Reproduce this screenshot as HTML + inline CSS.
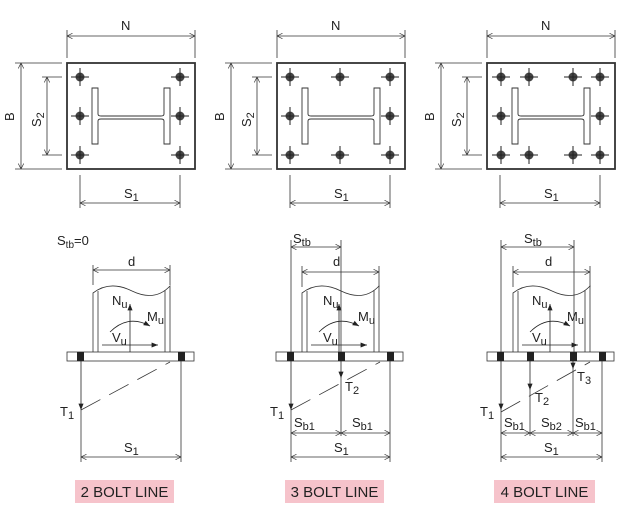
<!DOCTYPE html>
<html><head><style>
html,body{margin:0;padding:0;background:#fff}
svg{display:block}
text{font-family:"Liberation Sans",Arial,sans-serif;fill:#222}
</style></head><body>
<svg width="624" height="505" viewBox="0 0 624 505" xmlns="http://www.w3.org/2000/svg">
<defs>
<marker id="t" viewBox="0 0 10 10" refX="10" refY="5" markerWidth="7" markerHeight="7" orient="auto-start-reverse"><path d="M0,0 L10,5 L0,10" fill="none" stroke="#333" stroke-width="1.2"/></marker>
<marker id="a" viewBox="0 0 10 10" refX="10" refY="5" markerWidth="8" markerHeight="8" orient="auto"><path d="M0,1 L10,5 L0,9 z" fill="#222"/></marker>
<g id="bolt"><circle r="4.5" fill="#444"/><path d="M-9,0H9M0,-9V9" stroke="#222" stroke-width="1"/></g>
<g id="top" stroke="#333" fill="none" stroke-width="0.8">
<rect x="67" y="63" width="128" height="106" stroke-width="1.8"/>
<path d="M67,30V58M195,30V58"/>
<line x1="67" y1="36" x2="195" y2="36" marker-start="url(#t)" marker-end="url(#t)"/>
<path d="M15,63H62M15,169H62"/>
<line x1="21" y1="63" x2="21" y2="169" marker-start="url(#t)" marker-end="url(#t)"/>
<path d="M42,77H62M42,155H62"/>
<line x1="47" y1="77" x2="47" y2="155" marker-start="url(#t)" marker-end="url(#t)"/>
<path d="M80,175V208M180,175V208"/>
<line x1="80" y1="203" x2="180" y2="203" marker-start="url(#t)" marker-end="url(#t)"/>
<path d="M92,88H98V114Q98,116 101,116H161Q164,116 164,114V88H170V144H164V121Q164,119 161,119H101Q98,119 98,121V144H92Z" fill="#fff" stroke-width="0.9"/>
</g>
<g id="low" stroke="#333" fill="none" stroke-width="0.8">
<rect x="67" y="352" width="127" height="9" fill="#fff"/>
<path d="M93,352V293Q110,280 132,291Q155,302 170,286V352M98,352V291M165,352V290"/>
<line x1="130" y1="352" x2="130" y2="304" stroke="#222" marker-end="url(#a)"/>
<line x1="102" y1="345" x2="158" y2="345" stroke="#222" marker-end="url(#a)"/>
<path d="M110,332Q128,314 150,326" stroke="#222" marker-end="url(#a)"/>
</g>
</defs>

<use href="#top"/>
<use href="#top" transform="translate(210,0)"/>
<use href="#top" transform="translate(420,0)"/>
<g>
<use href="#bolt" x="80" y="77"/><use href="#bolt" x="180" y="77"/>
<use href="#bolt" x="80" y="116"/><use href="#bolt" x="180" y="116"/>
<use href="#bolt" x="80" y="155"/><use href="#bolt" x="180" y="155"/>
<use href="#bolt" x="290" y="77"/><use href="#bolt" x="340" y="77"/><use href="#bolt" x="390" y="77"/>
<use href="#bolt" x="290" y="116"/><use href="#bolt" x="390" y="116"/>
<use href="#bolt" x="290" y="155"/><use href="#bolt" x="340" y="155"/><use href="#bolt" x="390" y="155"/>
<use href="#bolt" x="501" y="77"/><use href="#bolt" x="529" y="77"/><use href="#bolt" x="573" y="77"/><use href="#bolt" x="600" y="77"/>
<use href="#bolt" x="501" y="116"/><use href="#bolt" x="600" y="116"/>
<use href="#bolt" x="501" y="155"/><use href="#bolt" x="529" y="155"/><use href="#bolt" x="573" y="155"/><use href="#bolt" x="600" y="155"/>
</g>
<g font-size="13">
<text x="121" y="30">N</text><text x="331" y="30">N</text><text x="541" y="30">N</text>
<text x="124" y="198">S<tspan font-size="11" dy="3">1</tspan></text>
<text x="334" y="198">S<tspan font-size="11" dy="3">1</tspan></text>
<text x="544" y="198">S<tspan font-size="11" dy="3">1</tspan></text>
<text transform="translate(14,121) rotate(-90)">B</text>
<text transform="translate(224,121) rotate(-90)">B</text>
<text transform="translate(434,121) rotate(-90)">B</text>
<text transform="translate(41,127) rotate(-90)">S<tspan font-size="11" dy="3">2</tspan></text>
<text transform="translate(251,127) rotate(-90)">S<tspan font-size="11" dy="3">2</tspan></text>
<text transform="translate(461,127) rotate(-90)">S<tspan font-size="11" dy="3">2</tspan></text>
</g>

<use href="#low"/>
<use href="#low" transform="translate(209,0)"/>
<use href="#low" transform="translate(420,0)"/>

<g stroke="#333" fill="none" stroke-width="0.8">
<line x1="93" y1="270" x2="170" y2="270" marker-start="url(#t)" marker-end="url(#t)"/>
<path d="M93,265V285M170,265V285"/>
<line x1="81" y1="361" x2="81" y2="410" marker-end="url(#a)" stroke="#222"/>
<path d="M81,410V462M181,361V462"/>
<path d="M81,410L170,362" stroke-dasharray="22,10"/>
<line x1="81" y1="457" x2="181" y2="457" marker-start="url(#t)" marker-end="url(#t)"/>

<line x1="291" y1="247" x2="341" y2="247" marker-start="url(#t)" marker-end="url(#t)"/>
<path d="M291,240V352M341,240V352"/>
<line x1="302" y1="272" x2="379" y2="272" marker-start="url(#t)" marker-end="url(#t)"/>
<path d="M302,266V287M379,266V287"/>
<line x1="291" y1="361" x2="291" y2="410" marker-end="url(#a)" stroke="#222"/>
<line x1="341" y1="361" x2="341" y2="378" marker-end="url(#a)" stroke="#222"/>
<path d="M291,410V462M341,378V436M390,361V462"/>
<path d="M291,410L380,362" stroke-dasharray="22,10"/>
<line x1="291" y1="433" x2="341" y2="433" marker-start="url(#t)" marker-end="url(#t)"/>
<line x1="341" y1="433" x2="390" y2="433" marker-start="url(#t)" marker-end="url(#t)"/>
<line x1="291" y1="457" x2="390" y2="457" marker-start="url(#t)" marker-end="url(#t)"/>

<line x1="501" y1="247" x2="574" y2="247" marker-start="url(#t)" marker-end="url(#t)"/>
<path d="M501,240V352M574,240V352"/>
<line x1="513" y1="272" x2="590" y2="272" marker-start="url(#t)" marker-end="url(#t)"/>
<path d="M513,266V287M590,266V287"/>
<line x1="501" y1="361" x2="501" y2="410" marker-end="url(#a)" stroke="#222"/>
<line x1="530" y1="361" x2="530" y2="390" marker-end="url(#a)" stroke="#222"/>
<line x1="573" y1="361" x2="573" y2="369" marker-end="url(#a)" stroke="#222"/>
<path d="M501,410V462M530,390V436M573,369V436M602,361V462"/>
<path d="M501,412L590,362" stroke-dasharray="22,10"/>
<line x1="501" y1="433" x2="530" y2="433" marker-start="url(#t)" marker-end="url(#t)"/>
<line x1="530" y1="433" x2="573" y2="433" marker-start="url(#t)" marker-end="url(#t)"/>
<line x1="573" y1="433" x2="602" y2="433" marker-start="url(#t)" marker-end="url(#t)"/>
<line x1="501" y1="457" x2="602" y2="457" marker-start="url(#t)" marker-end="url(#t)"/>
</g>
<g fill="#222">
<rect x="77" y="352" width="7" height="9"/><rect x="178" y="352" width="7" height="9"/>
<rect x="287" y="352" width="7" height="9"/><rect x="338" y="352" width="7" height="9"/><rect x="387" y="352" width="7" height="9"/>
<rect x="497" y="352" width="7" height="9"/><rect x="527" y="352" width="7" height="9"/><rect x="570" y="352" width="7" height="9"/><rect x="599" y="352" width="7" height="9"/>
</g>
<g font-size="13">
<text x="57" y="245">S<tspan font-size="10" dy="3">tb</tspan><tspan dy="-3">=0</tspan></text>
<text x="128" y="266">d</text><text x="333" y="266">d</text><text x="545" y="266">d</text>
<text x="293" y="243">S<tspan font-size="11" dy="3">tb</tspan></text>
<text x="524" y="243">S<tspan font-size="11" dy="3">tb</tspan></text>
<g id="lbl">
<text x="112" y="305">N<tspan font-size="11" dy="3">u</tspan></text>
<text x="147" y="321">M<tspan font-size="11" dy="3">u</tspan></text>
<text x="112" y="342">V<tspan font-size="11" dy="3">u</tspan></text>
</g>
<use href="#lbl" x="211"/>
<use href="#lbl" x="420"/>
<text x="60" y="416">T<tspan font-size="11" dy="3">1</tspan></text>
<text x="124" y="452">S<tspan font-size="11" dy="3">1</tspan></text>
<text x="270" y="416">T<tspan font-size="11" dy="3">1</tspan></text>
<text x="345" y="391">T<tspan font-size="11" dy="3">2</tspan></text>
<text x="294" y="427">S<tspan font-size="11" dy="3">b1</tspan></text>
<text x="352" y="427">S<tspan font-size="11" dy="3">b1</tspan></text>
<text x="334" y="452">S<tspan font-size="11" dy="3">1</tspan></text>
<text x="480" y="416">T<tspan font-size="11" dy="3">1</tspan></text>
<text x="535" y="402">T<tspan font-size="11" dy="3">2</tspan></text>
<text x="577" y="381">T<tspan font-size="11" dy="3">3</tspan></text>
<text x="504" y="427">S<tspan font-size="11" dy="3">b1</tspan></text>
<text x="541" y="427">S<tspan font-size="11" dy="3">b2</tspan></text>
<text x="575" y="427">S<tspan font-size="11" dy="3">b1</tspan></text>
<text x="544" y="452">S<tspan font-size="11" dy="3">1</tspan></text>
</g>
<rect x="75" y="480" width="99" height="23" fill="#f6c3cb"/>
<rect x="285" y="480" width="99" height="23" fill="#f6c3cb"/>
<rect x="494" y="480" width="101" height="23" fill="#f6c3cb"/>
<g font-size="15">
<text x="124.5" y="497" text-anchor="middle">2 BOLT LINE</text>
<text x="334.5" y="497" text-anchor="middle">3 BOLT LINE</text>
<text x="544.5" y="497" text-anchor="middle">4 BOLT LINE</text>
</g>
</svg>
</body></html>
